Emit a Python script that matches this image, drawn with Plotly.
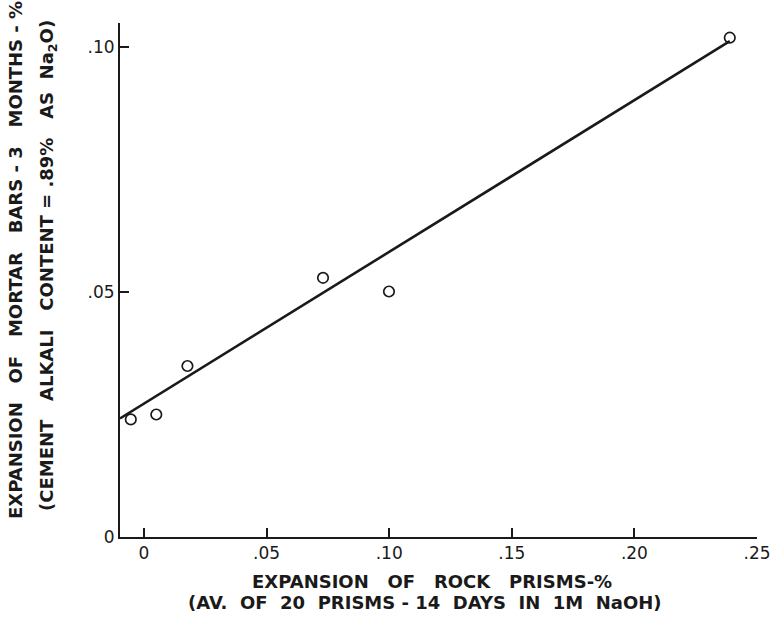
import plotly.graph_objects as go

# Data
rock_prism_exp = [-0.0054, 0.0050, 0.0177, 0.0730, 0.0999, 0.2389]
mortar_bar_exp = [0.0240, 0.0250, 0.0349, 0.0529, 0.0501, 0.1019]

fit_x = [-0.0098, 0.2389]
fit_y = [0.0242, 0.1012]

x_tickvals = [0, 0.05, 0.10, 0.15, 0.20, 0.25]
x_ticktext = ["0", ".05", ".10", ".15", ".20", ".25"]
y_tickvals = [0, 0.05, 0.10]
y_ticktext = ["0", ".05", ".10"]

x_title_1 = "EXPANSION\u00a0\u00a0 OF\u00a0\u00a0 ROCK\u00a0\u00a0 PRISMS-%"
x_title_2 = "(AV.\u00a0 OF\u00a0 20\u00a0 PRISMS\u00a0- 14\u00a0 DAYS\u00a0 IN\u00a0 1M\u00a0 NaOH)"
y_title_1 = "EXPANSION\u00a0\u00a0 OF\u00a0\u00a0 MORTAR\u00a0\u00a0 BARS\u00a0-\u00a03\u00a0\u00a0 MONTHS\u00a0-\u00a0%"
y_title_2 = "(CEMENT\u00a0\u00a0 ALKALI\u00a0\u00a0 CONTENT\u00a0=\u00a0.89%\u00a0\u00a0 AS\u00a0 Na<sub>2</sub>O)"

ink = "#1a1a1a"
font_family = "DejaVu Sans"
title_font = dict(size=18, family=font_family, color=ink, weight="bold")
tick_font = dict(size=17, family=font_family, color=ink)

fig = go.Figure()
fig.add_trace(go.Scatter(
    x=fit_x, y=fit_y, mode="lines",
    line=dict(color=ink, width=2.6),
    cliponaxis=False, showlegend=False, hoverinfo="skip",
))
fig.add_trace(go.Scatter(
    x=rock_prism_exp, y=mortar_bar_exp, mode="markers",
    marker=dict(symbol="circle-open", size=10.5, color=ink, line=dict(width=1.7, color=ink)),
    cliponaxis=False, showlegend=False,
))

# plot area: x 120..757, y 23..537
fig.update_layout(
    template="none",
    width=771, height=624,
    margin=dict(l=120, r=14, t=23, b=87, autoexpand=False),
    paper_bgcolor="white", plot_bgcolor="white",
    font=dict(family=font_family, color=ink, size=16),
    xaxis=dict(
        range=[-0.0098, 0.25], tickvals=x_tickvals, ticktext=x_ticktext,
        ticks="inside", ticklen=9, tickwidth=2, tickcolor=ink, automargin=False,
        showline=True, linewidth=2, linecolor=ink, showgrid=False, zeroline=False,
        tickfont=tick_font,
    ),
    yaxis=dict(
        range=[0, 0.1049], tickvals=y_tickvals, ticktext=y_ticktext,
        ticks="inside", ticklen=9, tickwidth=2, tickcolor=ink, automargin=False,
        showline=True, linewidth=2, linecolor=ink, showgrid=False, zeroline=False,
        tickfont=tick_font,
    ),
    annotations=[
        dict(text=x_title_1, xref="paper", yref="paper", x=(432 - 120) / 637, y=0,
             yshift=-44, xanchor="center", yanchor="middle", showarrow=False,
             font=title_font),
        dict(text=x_title_2, xref="paper", yref="paper", x=(425 - 120) / 637, y=0,
             yshift=-65, xanchor="center", yanchor="middle", showarrow=False,
             font=title_font),
        dict(text=y_title_1, xref="paper", yref="paper", x=0, xshift=-105,
             y=(537 - 260) / 514, xanchor="center", yanchor="middle", textangle=-90,
             showarrow=False, font=title_font),
        dict(text=y_title_2, xref="paper", yref="paper", x=0, xshift=-72,
             y=(537 - 266) / 514, xanchor="center", yanchor="middle", textangle=-90,
             showarrow=False, font=title_font),
    ],
)

fig.write_html(
    "out.html",
    config={"displayModeBar": False},
    post_script="document.documentElement.style.margin='0';"
                "document.body.style.margin='0';"
                "document.body.style.overflow='hidden';",
)
